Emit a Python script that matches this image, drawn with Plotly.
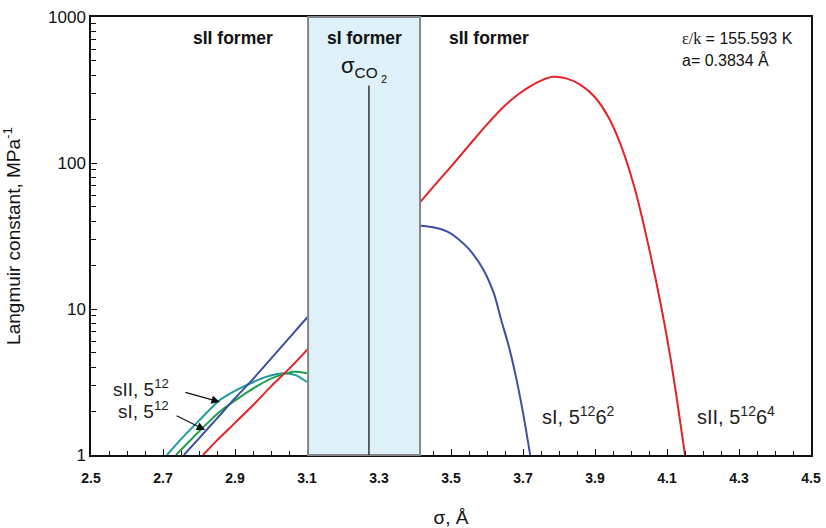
import plotly.graph_objects as go

# --- data ---
red_sigma = [2.811, 2.85, 2.9, 2.95, 3.0, 3.05, 3.1, 3.2, 3.3, 3.414, 3.45, 3.5, 3.55, 3.6,
             3.65, 3.69, 3.72, 3.75, 3.783, 3.82, 3.86, 3.9, 3.94, 3.975, 4.011, 4.048, 4.086,
             4.11, 4.13, 4.15]
red_C = [1.0, 1.26, 1.66, 2.19, 2.95, 3.89, 5.25, 10.7, 22.9, 53.7, 68.4, 94.4, 132, 184,
         248, 299, 335, 367, 389, 380, 343, 282, 200, 126, 66.1, 27.5, 9.77, 4.57, 2.19, 1.0]

blue_sigma = [2.758, 2.8, 2.85, 2.9, 2.95, 3.0, 3.05, 3.1, 3.2, 3.3, 3.38, 3.414, 3.45,
              3.49, 3.52, 3.55, 3.59, 3.62, 3.64, 3.66, 3.68, 3.70, 3.72]
blue_C = [1.0, 1.30, 1.78, 2.45, 3.31, 4.57, 6.31, 8.71, 15.8, 26.3, 34.7, 37.2, 36.3,
          33.9, 30.2, 25.7, 18.6, 12.6, 8.32, 5.62, 3.47, 1.95, 1.0]

teal_sigma = [2.711, 2.747, 2.8, 2.858, 2.9, 2.942, 2.98, 3.017, 3.04, 3.07, 3.1]
teal_C = [1.0, 1.26, 1.72, 2.38, 2.75, 3.09, 3.39, 3.59, 3.63, 3.51, 3.16]

green_sigma = [2.736, 2.8, 2.86, 2.922, 2.96, 2.997, 3.03, 3.061, 3.08, 3.1]
green_C = [1.0, 1.45, 2.0, 2.57, 2.95, 3.31, 3.55, 3.72, 3.70, 3.63]

x_ticks = [2.5, 2.7, 2.9, 3.1, 3.3, 3.5, 3.7, 3.9, 4.1, 4.3, 4.5]
y_ticks = [1, 10, 100, 1000]

sI_band = [3.103, 3.414]
sigma_co2 = 3.272
sigma_co2_top = 340

fig = go.Figure()
series = [
    (teal_sigma, teal_C, "#1b9b9e", "sII, 5^12"),
    (green_sigma, green_C, "#1fa04c", "sI, 5^12"),
    (blue_sigma, blue_C, "#3c50a2", "sI, 5^12 6^2"),
    (red_sigma, red_C, "#e32226", "sII, 5^12 6^4"),
]
for xs, ys, col, nm in series:
    fig.add_trace(go.Scatter(x=xs, y=ys, mode="lines", name=nm,
                             line=dict(color=col, width=2, shape="spline", smoothing=0.7)))

# sI former band
fig.add_shape(type="rect", xref="x", yref="paper", x0=sI_band[0], x1=sI_band[1], y0=0, y1=1,
              fillcolor="#def1f8", line=dict(color="#858585", width=2), layer="above")
fig.add_shape(type="line", xref="x", yref="y", x0=sigma_co2, x1=sigma_co2, y0=1, y1=sigma_co2_top,
              line=dict(color="#333333", width=1.5), layer="above")

F = "Liberation Sans, Arial, sans-serif"
ann = []
for xc, txt in [(2.895, "sII former"), (3.26, "sI former"), (3.605, "sII former")]:
    ann.append(dict(x=xc, y=0.953, xref="x", yref="paper", yanchor="middle", showarrow=False,
                    text="<b>%s</b>" % txt, font=dict(family=F, size=17.5, color="#111")))
# sigma CO2 label
ann.append(dict(x=3.245, y=0.922, xref="x", yref="paper", xanchor="center", showarrow=False,
                text="σ<sub>CO</sub>", font=dict(family=F, size=22, color="#111")))
ann.append(dict(x=3.313, y=0.876, xref="x", yref="paper", xanchor="center", showarrow=False,
                text="2", font=dict(family=F, size=11, color="#111")))
ann.append(dict(x=0.818, y=0.975, xref="paper", yref="paper", xanchor="left", showarrow=False,
                text="<span style='font-family:Liberation Serif'>ε/k</span> = 155.593 K",
                font=dict(family=F, size=16, color="#111")))
ann.append(dict(x=0.818, y=0.926, xref="paper", yref="paper", xanchor="left", showarrow=False,
                text="a= 0.3834 Å", font=dict(family=F, size=16, color="#111")))
# curve labels
ann.append(dict(x=2.555, y=0.120, xref="x", yref="paper", xanchor="left", showarrow=False,
                text="sII, 5<sup>12</sup>", font=dict(family=F, size=19, color="#222")))
ann.append(dict(x=2.57, y=0.070, xref="x", yref="paper", xanchor="left", showarrow=False,
                text="sI, 5<sup>12</sup>", font=dict(family=F, size=19, color="#222")))
ann.append(dict(x=3.747, y=0.058, xref="x", yref="paper", xanchor="left", showarrow=False,
                text="sI, 5<sup>12</sup>6<sup>2</sup>", font=dict(family=F, size=20, color="#222")))
ann.append(dict(x=4.178, y=0.058, xref="x", yref="paper", xanchor="left", showarrow=False,
                text="sII, 5<sup>12</sup>6<sup>4</sup>", font=dict(family=F, size=20, color="#222")))
# arrows
ann.append(dict(x=2.858, y=(455 - 402) / 438, xref="x", yref="paper", ax=-36, ay=-10,
                showarrow=True, arrowhead=2, arrowsize=1.4, arrowwidth=1.2, arrowcolor="#111", text=""))
ann.append(dict(x=2.817, y=(455 - 430) / 438, xref="x", yref="paper", ax=-30, ay=-15,
                showarrow=True, arrowhead=2, arrowsize=1.4, arrowwidth=1.2, arrowcolor="#111", text=""))

fig.update_layout(
    width=826, height=528,
    margin=dict(l=91, r=15, t=17, b=73, autoexpand=False),
    plot_bgcolor="white", paper_bgcolor="white",
    showlegend=False,
    annotations=ann,
    font=dict(family=F, color="#111"),
    xaxis=dict(range=[2.5, 4.5], tickvals=x_ticks, ticktext=["<b>%.1f</b>" % v for v in x_ticks],
               automargin=False, ticklabeloverflow="allow", ticklabelstandoff=9,
               ticks="inside", ticklen=6, tickwidth=1.2, tickcolor="#111",
               minor=dict(dtick=0.05, tick0=2.5, ticks="inside", ticklen=4, tickcolor="#111", showgrid=False),
               showline=True, linecolor="#111", linewidth=1.5, mirror=True, showgrid=False, zeroline=False,
               tickfont=dict(family="Liberation Sans Narrow, Arial Narrow, Liberation Sans", size=14, color="#111"),
               title=dict(text="σ, Å", font=dict(family=F, size=19, color="#111"), standoff=28)),
    yaxis=dict(type="log", range=[0, 3], tickvals=y_ticks, ticktext=[str(v) for v in y_ticks],
               automargin=False, ticklabeloverflow="allow",
               ticks="inside", ticklen=6, tickwidth=1.2, tickcolor="#111",
               minor=dict(dtick="D1", ticks="inside", ticklen=5, tickcolor="#111", showgrid=False),
               showline=True, linecolor="#111", linewidth=1.5, mirror=True, showgrid=False, zeroline=False,
               tickfont=dict(family=F, size=17, color="#111"),
               title=dict(text="Langmuir constant, MPa<sup>-1</sup>", font=dict(family=F, size=19, color="#111"),
                          standoff=26)),
)

# remove the page's default 8px body margin so the figure fills the window exactly
fig.write_html("out.html", config={"displayModeBar": False},
               post_script="document.body.style.margin='0';document.body.style.overflow='hidden';")
